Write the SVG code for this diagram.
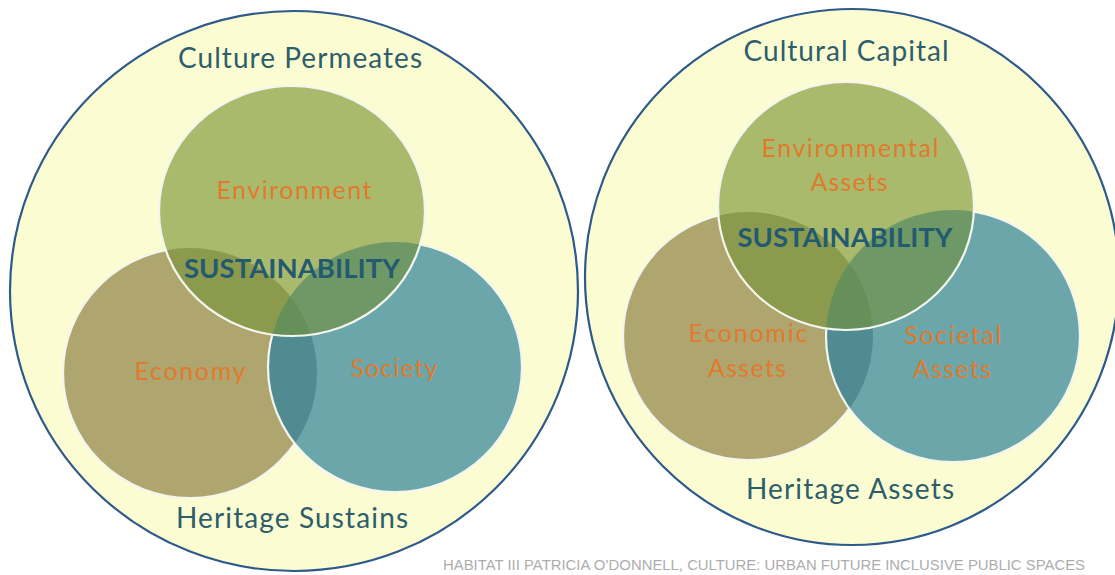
<svg xmlns="http://www.w3.org/2000/svg" width="1115" height="575" viewBox="0 0 1115 575">
<style>
.outer{fill:#fcfcd2;stroke:#2c5a8a;stroke-width:2.2}
.env{fill:#a9ba6d}
.eco{fill:#aea56f}
.soc{fill:#6ba6ab}
.ee{fill:#8b9a4c}
.es{fill:#6e9966}
.cs{fill:#4f8b91}
.tri{fill:#65905a}
.wl{fill:none;stroke:#f4f6ee;stroke-width:2.2}
.title{font-family:Lato,"Open Sans",sans-serif;font-size:28px;fill:#2d5e6b;text-anchor:middle}
.lab{font-family:Lato,"Open Sans",sans-serif;font-size:25px;fill:#e07a2c;text-anchor:middle}
.sus{font-family:Lato,"Open Sans",sans-serif;font-size:26px;font-weight:bold;fill:#245a70;text-anchor:middle}
.foot{font-family:"Liberation Sans",Arial,sans-serif;font-size:15px;fill:#adadad}
</style>
<defs>
<clipPath id="cEcoL"><ellipse cx="190" cy="373" rx="127" ry="125"/></clipPath>
<clipPath id="cSocL"><ellipse cx="395" cy="367" rx="127" ry="125"/></clipPath>
<clipPath id="cEcoR"><ellipse cx="748" cy="336" rx="125" ry="124"/></clipPath>
<clipPath id="cSocR"><ellipse cx="953" cy="336" rx="127" ry="126"/></clipPath>
</defs>
<rect width="1115" height="575" fill="#ffffff"/>

<g id="left-diagram">
<ellipse id="left-outer" class="outer" cx="294" cy="291" rx="284" ry="280"/>
<g id="economy">
<ellipse class="eco" cx="190" cy="373" rx="127" ry="125"/>
<ellipse class="wl" cx="190" cy="373" rx="127" ry="125"/>
</g>
<g id="society">
<ellipse class="soc" cx="395" cy="367" rx="127" ry="125"/>
<ellipse class="cs" cx="395" cy="367" rx="127" ry="125" clip-path="url(#cEcoL)"/>
<ellipse class="wl" cx="395" cy="367" rx="127" ry="125"/>
</g>
<g id="environment">
<ellipse class="env" cx="292" cy="211" rx="133" ry="125"/>
<ellipse class="ee" cx="292" cy="211" rx="133" ry="125" clip-path="url(#cEcoL)"/>
<ellipse class="es" cx="292" cy="211" rx="133" ry="125" clip-path="url(#cSocL)"/>
<g clip-path="url(#cSocL)"><ellipse class="tri" cx="292" cy="211" rx="133" ry="125" clip-path="url(#cEcoL)"/></g>
<ellipse class="wl" cx="292" cy="211" rx="133" ry="125"/>
</g>
<text class="title" x="300" y="68" textLength="244" lengthAdjust="spacing">Culture Permeates</text>
<text class="lab" x="294" y="199" textLength="155" lengthAdjust="spacing">Environment</text>
<text class="sus" x="292" y="278" textLength="216" lengthAdjust="spacingAndGlyphs">SUSTAINABILITY</text>
<text class="lab" x="190" y="380" textLength="111" lengthAdjust="spacing">Economy</text>
<text class="lab" x="394" y="377" textLength="87" lengthAdjust="spacing">Society</text>
<text class="title" x="292" y="528" textLength="232" lengthAdjust="spacing">Heritage Sustains</text>
</g>

<g id="right-diagram">
<ellipse id="right-outer" class="outer" cx="852" cy="277" rx="267" ry="268"/>
<g id="economic-assets">
<ellipse class="eco" cx="748" cy="336" rx="125" ry="124"/>
<ellipse class="wl" cx="748" cy="336" rx="125" ry="124"/>
</g>
<g id="societal-assets">
<ellipse class="soc" cx="953" cy="336" rx="127" ry="126"/>
<ellipse class="cs" cx="953" cy="336" rx="127" ry="126" clip-path="url(#cEcoR)"/>
<ellipse class="wl" cx="953" cy="336" rx="127" ry="126"/>
</g>
<g id="environmental-assets">
<ellipse class="env" cx="846" cy="206" rx="128" ry="124"/>
<ellipse class="ee" cx="846" cy="206" rx="128" ry="124" clip-path="url(#cEcoR)"/>
<ellipse class="es" cx="846" cy="206" rx="128" ry="124" clip-path="url(#cSocR)"/>
<g clip-path="url(#cSocR)"><ellipse class="tri" cx="846" cy="206" rx="128" ry="124" clip-path="url(#cEcoR)"/></g>
<ellipse class="wl" cx="846" cy="206" rx="128" ry="124"/>
</g>
<text class="title" x="846" y="61" textLength="205" lengthAdjust="spacing">Cultural Capital</text>
<text class="lab" x="850" y="157" textLength="177" lengthAdjust="spacing">Environmental</text>
<text class="lab" x="849" y="191" textLength="77" lengthAdjust="spacing">Assets</text>
<text class="sus" x="845" y="247" textLength="215" lengthAdjust="spacingAndGlyphs">SUSTAINABILITY</text>
<text class="lab" x="748" y="342" textLength="119" lengthAdjust="spacing">Economic</text>
<text class="lab" x="747" y="377" textLength="78" lengthAdjust="spacing">Assets</text>
<text class="lab" x="953" y="344" textLength="97" lengthAdjust="spacing">Societal</text>
<text class="lab" x="952" y="378" textLength="78" lengthAdjust="spacing">Assets</text>
<text class="title" x="850" y="499" textLength="208" lengthAdjust="spacing">Heritage Assets</text>
</g>

<text id="credit" class="foot" x="443" y="570" textLength="642" lengthAdjust="spacingAndGlyphs">HABITAT III PATRICIA O’DONNELL, CULTURE: URBAN FUTURE INCLUSIVE PUBLIC SPACES</text>
</svg>
